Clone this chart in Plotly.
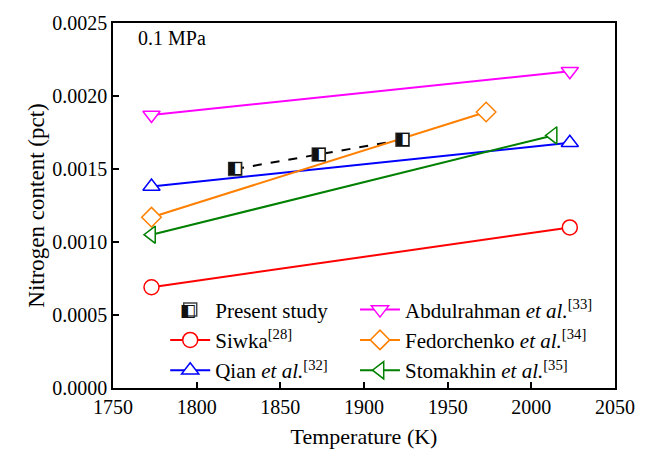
import plotly.graph_objects as go

# Nitrogen solubility in liquid iron at 0.1 MPa
present_T = [1823, 1873, 1923]
present_N = [0.0015, 0.0016, 0.0017]

siwka_T = [1773, 2023]
siwka_N = [0.00069, 0.00110]

qian_T = [1773, 2023]
qian_N = [0.00138, 0.00168]

abdul_T = [1773, 2023]
abdul_N = [0.00187, 0.00217]

fedor_T = [1773, 1973]
fedor_N = [0.00117, 0.00189]

stomakhin_T = [1773, 2013]
stomakhin_N = [0.00105, 0.00173]

x_ticks = [1750, 1800, 1850, 1900, 1950, 2000, 2050]
y_ticks = [0.0, 0.0005, 0.0010, 0.0015, 0.0020, 0.0025]

FONT = "Liberation Serif, Times New Roman, serif"
HALF_SQUARE = "\u25e7"  # square with left half black

fig = go.Figure()


def ref_series(x, y, name, color, symbol, legend):
    fig.add_trace(go.Scatter(
        x=x, y=y, name=name, mode="lines+markers", legend=legend,
        line=dict(color=color, width=2),
        marker=dict(symbol=symbol, size=15, color="white",
                    line=dict(color=color, width=1.5)),
    ))


# dashed connector for the present measurements
fig.add_trace(go.Scatter(
    x=present_T, y=present_N, mode="lines", showlegend=False,
    line=dict(color="black", width=2, dash="dash"),
))

ref_series(siwka_T, siwka_N, "Siwka<sup>[28]</sup>", "#ff0000", "circle", "legend")
ref_series(qian_T, qian_N, "Qian <i>et al.</i><sup>[32]</sup>", "#0000ff", "triangle-up", "legend")
ref_series(abdul_T, abdul_N, "Abdulrahman <i>et al.</i><sup>[33]</sup>", "#ff00ff", "triangle-down", "legend2")
ref_series(fedor_T, fedor_N, "Fedorchenko <i>et al.</i><sup>[34]</sup>", "#ff8000", "diamond", "legend2")
ref_series(stomakhin_T, stomakhin_N, "Stomakhin <i>et al.</i><sup>[35]</sup>", "#008000", "triangle-left", "legend2")

# present study: white square base with a half-filled glyph on top
fig.add_trace(go.Scatter(
    x=present_T, y=present_N, name="Present study", mode="markers", legend="legend",
    legendrank=1,
    marker=dict(symbol="square", size=13, color="white",
                line=dict(color="#444444", width=1.5)),
))
fig.add_trace(go.Scatter(
    x=present_T, y=present_N, mode="text", showlegend=False,
    text=[HALF_SQUARE] * len(present_T), textposition="middle center",
    textfont=dict(family="DejaVu Sans", size=17, color="#111111"),
))

axis_common = dict(
    showline=True, linecolor="black", linewidth=1.5, mirror=True,
    ticks="inside", ticklen=6, tickwidth=1.5, tickcolor="black",
    showgrid=False, zeroline=False,
    tickfont=dict(family=FONT, size=20, color="black"),
    minor=dict(ticks="inside", ticklen=3.5, tickwidth=1.5, tickcolor="black", nticks=2),
)

fig.update_xaxes(
    range=[1750, 2050], tickvals=x_ticks, ticktext=[str(v) for v in x_ticks],
    title=dict(text="Temperature (K)", font=dict(family=FONT, size=22, color="black"), standoff=12),
    **axis_common,
)
fig.update_yaxes(
    range=[0, 0.0025], tickvals=y_ticks, ticktext=[f"{v:.4f}" for v in y_ticks],
    title=dict(text="Nitrogen content (pct)", font=dict(family=FONT, size=23, color="black"), standoff=1),
    **axis_common,
)

legend_common = dict(
    bgcolor="rgba(0,0,0,0)", borderwidth=0,
    font=dict(family=FONT, size=21, color="black"),
    xanchor="left", yanchor="top", tracegroupgap=0, itemwidth=40,
)

fig.update_layout(
    width=647, height=458,
    margin=dict(l=113, r=30, t=17, b=70),
    paper_bgcolor="white", plot_bgcolor="white",
    font=dict(family=FONT, color="black"),
    legend=dict(x=0.104, y=0.27, **legend_common),
    legend2=dict(x=0.482, y=0.27, **legend_common),
    annotations=[
        dict(text="0.1 MPa", x=0.046, y=0.96, xref="paper", yref="paper",
             xanchor="left", yanchor="middle", showarrow=False,
             font=dict(family=FONT, size=20, color="black")),
        # half-filled glyph over the legend's square symbol
        dict(text=HALF_SQUARE, x=0.1495, y=0.2135, xref="paper", yref="paper",
             xanchor="center", yanchor="middle", showarrow=False,
             font=dict(family="DejaVu Sans", size=17, color="#111111")),
    ],
)

fig.write_html("out.html")
